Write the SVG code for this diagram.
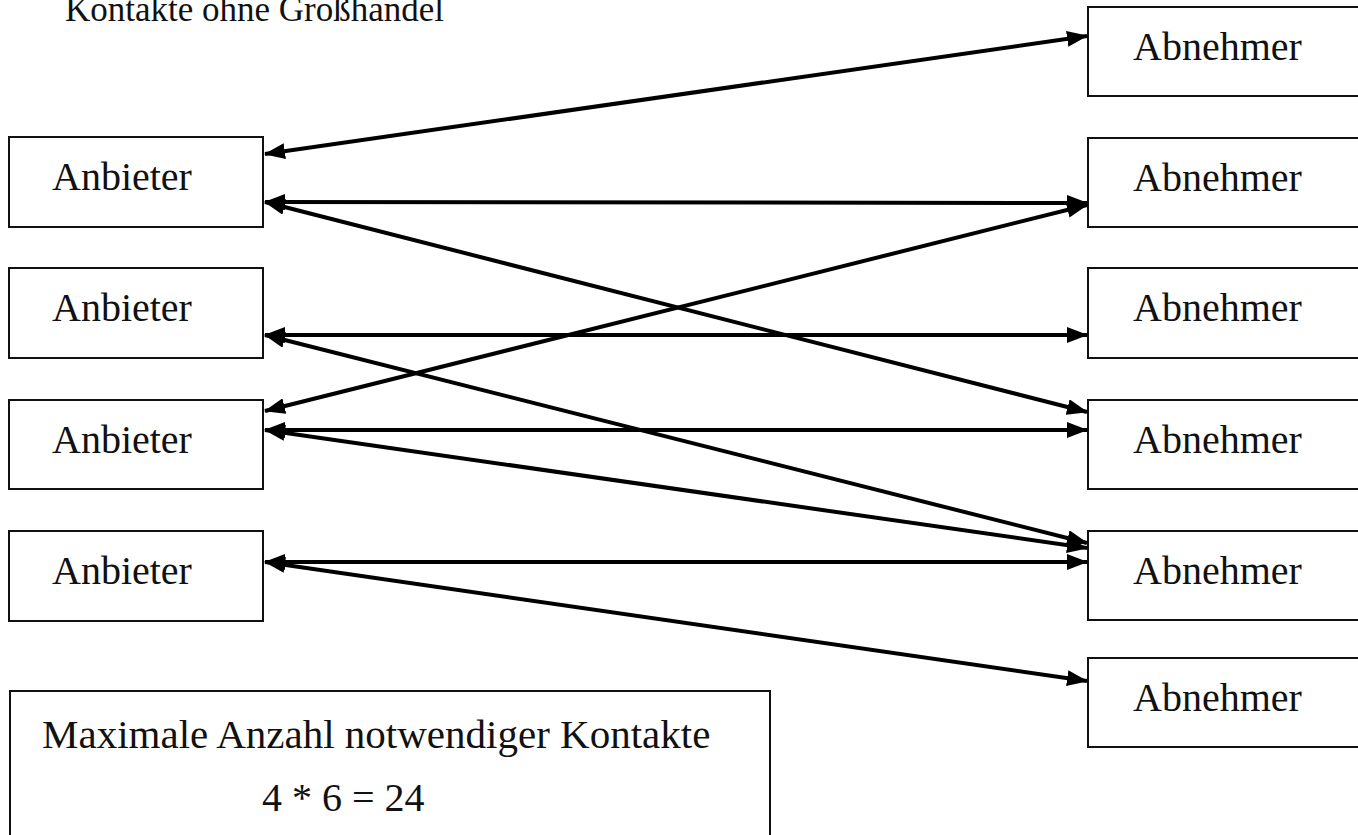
<svg xmlns="http://www.w3.org/2000/svg" width="1358" height="835" viewBox="0 0 1358 835">
<style>
.box{fill:#fff;stroke:#111;stroke-width:2}
.t{font-family:"Liberation Serif","Times New Roman",serif;font-size:40px;fill:#111}
.c{stroke:#000;stroke-width:4;fill:none;marker-start:url(#ah);marker-end:url(#ah)}
</style>
<defs>
<marker id="ah" markerUnits="userSpaceOnUse" markerWidth="22" markerHeight="16" refX="20" refY="8" orient="auto-start-reverse">
<path d="M0,0 L21,8 L0,16 Z" fill="#000"/>
</marker>
</defs>
<rect width="1358" height="835" fill="#fff"/>
<text class="t" x="65" y="21" style="font-size:35px">Kontakte ohne Großhandel</text>
<g id="anbieter1"><rect class="box" x="9" y="137" width="254" height="90"/><text class="t" x="52" y="190">Anbieter</text></g>
<g id="anbieter2"><rect class="box" x="9" y="268" width="254" height="90"/><text class="t" x="52" y="321">Anbieter</text></g>
<g id="anbieter3"><rect class="box" x="9" y="400" width="254" height="89"/><text class="t" x="52" y="453">Anbieter</text></g>
<g id="anbieter4"><rect class="box" x="9" y="531" width="254" height="90"/><text class="t" x="52" y="584">Anbieter</text></g>
<g id="abnehmer1"><rect class="box" x="1088" y="7" width="290" height="89"/><text class="t" x="1133" y="60">Abnehmer</text></g>
<g id="abnehmer2"><rect class="box" x="1088" y="138" width="290" height="89"/><text class="t" x="1133" y="191">Abnehmer</text></g>
<g id="abnehmer3"><rect class="box" x="1088" y="268" width="290" height="90"/><text class="t" x="1133" y="321">Abnehmer</text></g>
<g id="abnehmer4"><rect class="box" x="1088" y="400" width="290" height="89"/><text class="t" x="1133" y="453">Abnehmer</text></g>
<g id="abnehmer5"><rect class="box" x="1088" y="531" width="290" height="89"/><text class="t" x="1133" y="584">Abnehmer</text></g>
<g id="abnehmer6"><rect class="box" x="1088" y="658" width="290" height="89"/><text class="t" x="1133" y="711">Abnehmer</text></g>
<g id="summary"><rect class="box" x="10" y="691" width="760" height="160"/>
<text class="t" x="42" y="748" style="font-size:41px">Maximale Anzahl notwendiger Kontakte</text>
<text class="t" x="262" y="811">4 * 6 = 24</text></g>
<g id="connectors">
<line class="c" x1="265" y1="154" x2="1087" y2="36"/>
<line class="c" x1="265" y1="202" x2="1087" y2="203"/>
<line class="c" x1="265" y1="202" x2="1087" y2="412"/>
<line class="c" x1="265" y1="411" x2="1087" y2="205"/>
<line class="c" x1="265" y1="335" x2="1087" y2="335"/>
<line class="c" x1="265" y1="335" x2="1087" y2="543"/>
<line class="c" x1="265" y1="430" x2="1087" y2="430"/>
<line class="c" x1="265" y1="430" x2="1087" y2="548"/>
<line class="c" x1="265" y1="562" x2="1087" y2="562"/>
<line class="c" x1="265" y1="562" x2="1087" y2="681"/>
</g>
</svg>
